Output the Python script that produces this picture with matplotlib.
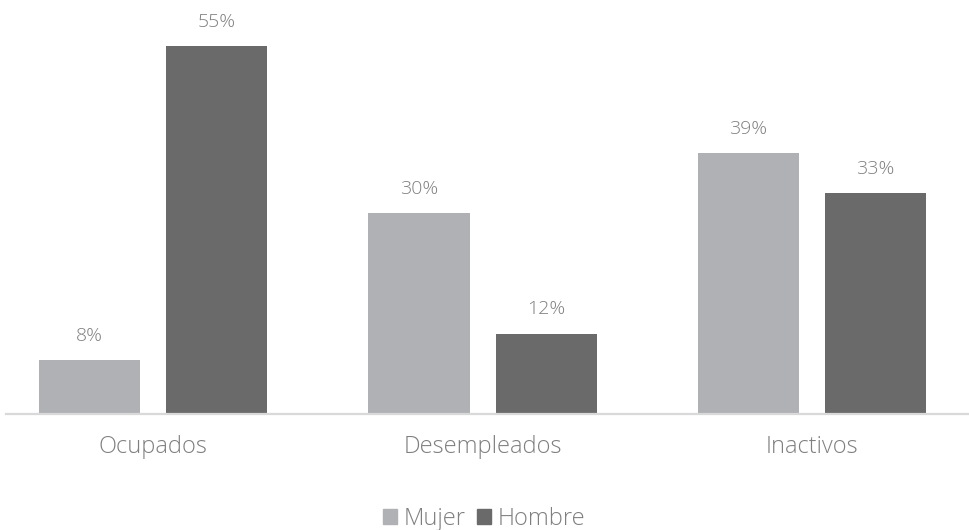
import numpy as np
import matplotlib.pyplot as plt
from matplotlib.patches import Patch

categorias = ['Ocupados', 'Desempleados', 'Inactivos']
mujer = [8, 30, 39]
hombre = [55, 12, 33]

c_mujer = '#b0b1b4'
c_hombre = '#6a6a6a'
c_texto = '#7f7f7f'

plt.rcParams['font.family'] = ['Open Sans', 'DejaVu Sans']

fig = plt.figure(figsize=(9.69, 5.30), dpi=100)
ax = fig.add_axes([6/969, 116/530, 962/969, 401.4/530])

x = np.arange(len(categorias))
w = 0.307
off = 0.193
b1 = ax.bar(x - off, mujer, w, color=c_mujer)
b2 = ax.bar(x + off, hombre, w, color=c_hombre)

for bars, vals in ((b1, mujer), (b2, hombre)):
    for b, v in zip(bars, vals):
        ax.annotate(f'{v}%', (b.get_x() + b.get_width() / 2, v),
                    xytext=(0, 11), textcoords='offset points',
                    ha='center', va='bottom', fontsize=14,
                    color=c_texto, fontweight='light')

ax.set_xlim(-0.446, 2.473)
ax.set_ylim(0, 60)
ax.set_xticks(x)
ax.set_xticklabels(categorias, fontsize=17, color=c_texto, fontweight='light')
ax.tick_params(axis='x', length=0, pad=15)
ax.set_yticks([])
for s in ('top', 'right', 'left'):
    ax.spines[s].set_visible(False)
ax.spines['bottom'].set_color('#d9d9d9')
ax.spines['bottom'].set_linewidth(1.6)

handles = [Patch(color=c_mujer, label='Mujer'), Patch(color=c_hombre, label='Hombre')]
leg = fig.legend(handles=handles, loc='center', bbox_to_anchor=(484/969, 1 - 519/530),
                 ncol=2, frameon=False, handlelength=0.6, handleheight=0.6,
                 handletextpad=0.3, columnspacing=0.45,
                 prop={'size': 17, 'weight': 'light'})
for t in leg.get_texts():
    t.set_color(c_texto)

fig.savefig('out.png', dpi=100)
